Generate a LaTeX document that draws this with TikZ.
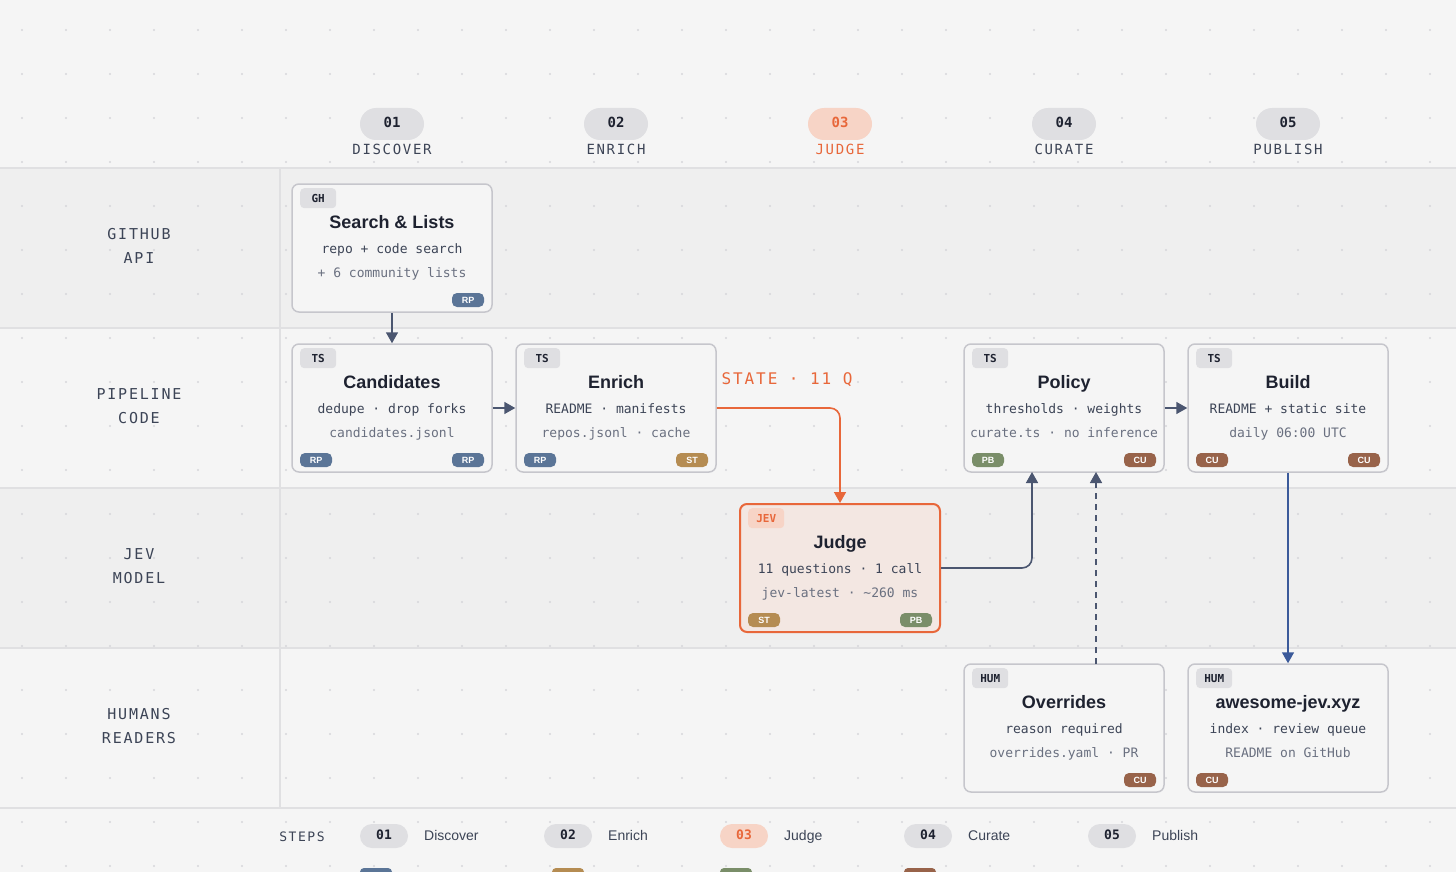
\documentclass[tikz,border=0pt]{standalone}
\usepackage{fontspec}
\setmainfont{Liberation Sans}
\newfontfamily\mono{DejaVu Sans Mono}
\newfontfamily\spmono[LetterSpace=12]{DejaVu Sans Mono}
\usetikzlibrary{arrows.meta}
\definecolor{bg}{HTML}{F5F5F5}
\definecolor{bgd}{HTML}{EFEFEF}
\definecolor{sep}{HTML}{E0E0E2}
\definecolor{dotc}{HTML}{D6D6DA}
\definecolor{ink}{HTML}{1E2230}
\definecolor{sub}{HTML}{3C4456}
\definecolor{faint}{HTML}{6A7080}
\definecolor{cbord}{HTML}{C6C6CC}
\definecolor{pill}{HTML}{DFDFE2}
\definecolor{org}{HTML}{E8673A}
\definecolor{orgf}{HTML}{F3E7E2}
\definecolor{orgp}{HTML}{F7D4C6}
\definecolor{arr}{HTML}{4B5670}
\definecolor{blu}{HTML}{3B5A9A}
\definecolor{RP}{HTML}{5B7597}
\definecolor{ST}{HTML}{B58C52}
\definecolor{PB}{HTML}{7A8E69}
\definecolor{CU}{HTML}{98634A}
\tikzset{
 card/.style={draw=cbord,line width=1.5pt,fill=bg,rounded corners=7pt,minimum width=200pt,minimum height=128pt,inner sep=0pt},
 tagp/.style={fill=pill,rounded corners=4pt,minimum width=36pt,minimum height=20pt,inner sep=0pt,font=\mono\bfseries\fontsize{11}{11}\selectfont,text=ink},
 badge/.style={rounded corners=5pt,minimum width=32pt,minimum height=14pt,inner sep=0pt,font=\bfseries\fontsize{9}{9}\selectfont,text=white},
 ttl/.style={font=\bfseries\fontsize{18}{18}\selectfont,text=ink,text height=13pt,text depth=4pt},
 l1/.style={font=\mono\fontsize{13}{13}\selectfont,text=sub,text height=10pt,text depth=3pt},
 l2/.style={font=\mono\fontsize{13}{13}\selectfont,text=faint,text height=10pt,text depth=3pt},
 lane/.style={font=\spmono\fontsize{15}{24}\selectfont,text=sub,align=center},
 hpill/.style={fill=pill,rounded corners=16pt,minimum width=64pt,minimum height=32pt,inner sep=0pt,font=\mono\bfseries\fontsize{14}{14}\selectfont,text=ink},
 hlab/.style={font=\spmono\fontsize{14}{14}\selectfont,text=sub},
 lpill/.style={fill=pill,rounded corners=12pt,minimum width=48pt,minimum height=24pt,inner sep=0pt,font=\mono\bfseries\fontsize{13}{13}\selectfont,text=ink},
 llab/.style={font=\fontsize{14}{14}\selectfont,text=sub,anchor=west,inner sep=0pt,text height=10pt,text depth=3pt},
 con/.style={draw=arr,line width=1.6pt,-{Triangle[length=11pt,width=12pt]},rounded corners=10pt},
}
\newcommand{\card}[7]{% name, cx, top, tag, title, l1, l2
 \node[card] (#1) at (#2,#3+64) {};
 \node[tagp,anchor=north west] (#1t) at (#2-92,#3+4) {#4};
 \node[ttl] (#1h) at (#2,#3+40) {#5};
 \node[l1] (#1a) at (#2,#3+66) {#6};
 \node[l2] (#1b) at (#2,#3+90) {#7};}
\newcommand{\bdg}[4]{\node[badge,fill=#3] (#1) at (#2) {#4};}
\begin{document}
\begin{tikzpicture}[x=1pt,y=-1pt]
\useasboundingbox (0,0) rectangle (1456,872);
\fill[bg] (0,0) rectangle (1456,872);
\fill[bgd] (0,168) rectangle (1456,328);
\fill[bgd] (0,488) rectangle (1456,648);
\foreach \i in {0,...,32}{\foreach \j in {0,...,19}{\fill[dotc] (22+44*\i,30+44*\j) circle (1.1pt);}}
\foreach \yy in {168,328,488,648,808}{\draw[sep,line width=1.5pt] (0,\yy) -- (1456,\yy);}
\draw[sep,line width=1.5pt] (280,168) -- (280,808);
% header
\foreach \n/\x/\l in {01/392/DISCOVER,02/616/ENRICH,04/1064/CURATE,05/1288/PUBLISH}{
 \node[hpill] (h\n) at (\x,124) {\raisebox{4pt}{\n}};
 \node[hlab] (hl\n) at (\x,149) {\l};}
\node[hpill,fill=orgp,text=org] (h03) at (840,124) {\raisebox{4pt}{03}};
\node[hlab,text=org] (hl03) at (840,149) {JUDGE};
% lanes
\node[lane] (la1) at (139,246) {GITHUB\\API};
\node[lane] (la2) at (139,406) {PIPELINE\\CODE};
\node[lane] (la3) at (139,566) {JEV\\MODEL};
\node[lane] (la4) at (139,726) {HUMANS\\READERS};
% cards
\card{srch}{392}{184}{GH}{Search \& Lists}{repo + code search}{+ 6 community lists}
\card{cand}{392}{344}{TS}{Candidates}{dedupe · drop forks}{candidates.jsonl}
\card{enr}{616}{344}{TS}{Enrich}{README · manifests}{repos.jsonl · cache}
\node[card,draw=org,fill=orgf,line width=2pt] (jdg) at (840,568) {};
\node[tagp,anchor=north west,fill=orgp,text=org] (jdgt) at (748,508) {JEV};
\node[ttl] (jdgh) at (840,544) {Judge};
\node[l1] (jdga) at (840,570) {11 questions · 1 call};
\node[l2] (jdgb) at (840,594) {jev-latest · \textasciitilde260 ms};
\card{pol}{1064}{344}{TS}{Policy}{thresholds · weights}{curate.ts · no inference}
\card{bld}{1288}{344}{TS}{Build}{README + static site}{daily 06:00 UTC}
\card{ovr}{1064}{664}{HUM}{Overrides}{reason required}{overrides.yaml · PR}
\card{aws}{1288}{664}{HUM}{awesome-jev.xyz}{index · review queue}{README on GitHub}
% badges
\bdg{b1}{468,300}{RP}{RP}
\bdg{b2}{316,460}{RP}{RP}\bdg{b3}{468,460}{RP}{RP}
\bdg{b4}{540,460}{RP}{RP}\bdg{b5}{692,460}{ST}{ST}
\bdg{b6}{764,620}{ST}{ST}\bdg{b7}{916,620}{PB}{PB}
\bdg{b8}{988,460}{PB}{PB}\bdg{b9}{1140,460}{CU}{CU}
\bdg{b10}{1212,460}{CU}{CU}\bdg{b11}{1364,460}{CU}{CU}
\bdg{b12}{1140,780}{CU}{CU}\bdg{b13}{1212,780}{CU}{CU}
% connectors
\draw[con] (srch.south) -- (cand.north);
\draw[con] (cand.east) -- (enr.west);
\draw[con,draw=org] (enr.east) -| (jdg.north);
\node[anchor=west,font=\spmono\fontsize{16}{16}\selectfont,text=org] (stl) at (718,380) {STATE · 11 Q};
\coordinate (pj) at (1032,472);
\draw[con] (jdg.east) -| (pj);
\coordinate (ps) at (1096,472);
\coordinate (os) at (1096,664);
\draw[con,rounded corners=0pt,dash pattern=on 6pt off 5pt] (os) -- (ps);
\draw[con] (pol.east) -- (bld.west);
\draw[con,draw=blu] (bld.south) -- (aws.north);
% legend
\node[font=\spmono\fontsize{13}{13}\selectfont,text=sub] (steps) at (302,837) {STEPS};
\foreach \n/\x/\l in {01/384/Discover,02/568/Enrich,04/928/Curate,05/1112/Publish}{
 \node[lpill] (lp\n) at (\x,836) {\raisebox{2pt}{\n}};
 \node[llab] (ll\n) at (\x+40,837) {\l};}
\node[lpill,fill=orgp,text=org] (lp03) at (744,836) {\raisebox{2pt}{03}};
\node[llab] (ll03) at (784,837) {Judge};
\foreach \x/\c in {376/RP,568/ST,736/PB,920/CU}{\fill[\c,rounded corners=4pt] (\x-16,868) rectangle (\x+16,884);}
\end{tikzpicture}
\end{document}
